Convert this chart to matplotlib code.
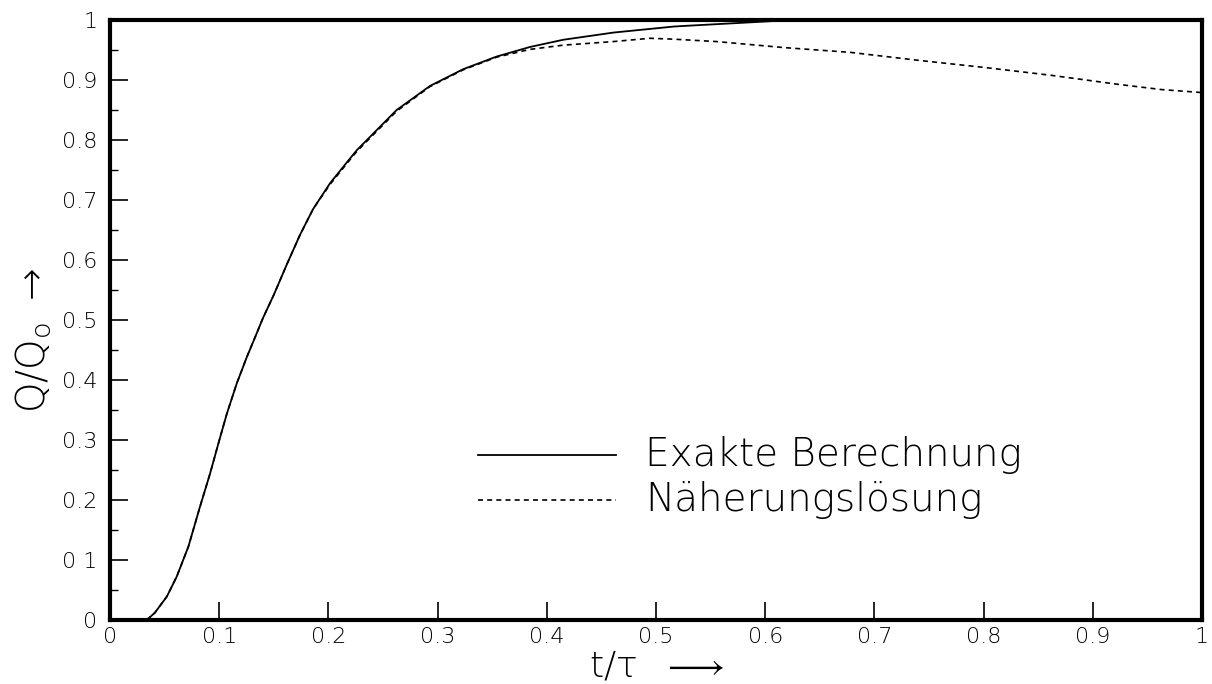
import numpy as np
import matplotlib
matplotlib.use('Agg')
import matplotlib.pyplot as plt
from matplotlib.ticker import MultipleLocator

# Exakte Berechnung
t_exact = [0.0, 0.0336, 0.041, 0.052, 0.061, 0.0717, 0.0824, 0.0916, 0.0992, 0.107,
           0.116, 0.125, 0.133, 0.140, 0.150, 0.162, 0.174, 0.186, 0.2015, 0.217,
           0.226, 0.2625, 0.293, 0.3235, 0.354, 0.3846, 0.415, 0.461, 0.516, 0.525,
           0.586, 0.625, 0.65]
q_exact = [0.0, 0.0, 0.012, 0.039, 0.072, 0.122, 0.189, 0.244, 0.294, 0.344,
           0.394, 0.437, 0.472, 0.503, 0.542, 0.593, 0.642, 0.685, 0.728, 0.763,
           0.783, 0.850, 0.890, 0.918, 0.939, 0.955, 0.967, 0.979, 0.989, 0.990,
           0.996, 1.0, 1.0]

# Näherungslösung
t_approx = [0.0, 0.0336, 0.041, 0.052, 0.061, 0.0717, 0.0824, 0.0916, 0.0992, 0.107,
            0.116, 0.125, 0.133, 0.140, 0.150, 0.162, 0.174, 0.186, 0.2015, 0.217,
            0.226, 0.2625, 0.293, 0.3235, 0.354, 0.3846, 0.415, 0.461, 0.4945, 0.516,
            0.5556, 0.617, 0.678, 0.739, 0.80, 0.861, 0.922, 0.963, 1.0]
q_approx = [0.0, 0.0, 0.012, 0.039, 0.072, 0.122, 0.189, 0.244, 0.294, 0.344,
            0.394, 0.437, 0.472, 0.503, 0.542, 0.593, 0.642, 0.685, 0.726, 0.761,
            0.781, 0.848, 0.889, 0.917, 0.938, 0.951, 0.958, 0.964, 0.9695, 0.968,
            0.964, 0.954, 0.946, 0.933, 0.921, 0.908, 0.893, 0.884, 0.879]

x_ticks = [0, 0.1, 0.2, 0.3, 0.4, 0.5, 0.6, 0.7, 0.8, 0.9, 1]
x_labels = ['0', '0.1', '0.2', '0.3', '0.4', '0.5', '0.6', '0.7', '0.8', '0.9', '1']
y_ticks = [0, 0.1, 0.2, 0.3, 0.4, 0.5, 0.6, 0.7, 0.8, 0.9, 1]
y_labels = ['0', '0 1', '0.2', '0.3', '0.4', '0.5', '0.6', '0.7', '0.8', '0.9', '1']

plt.rcParams['font.family'] = ['DejaVu Sans']
plt.rcParams['font.weight'] = 'light'
plt.rcParams['axes.labelweight'] = 'light'
plt.rcParams['mathtext.fontset'] = 'custom'
plt.rcParams['mathtext.rm'] = 'DejaVu Sans:light'
plt.rcParams['mathtext.it'] = 'DejaVu Sans:light'

fig = plt.figure(figsize=(12.12, 6.84), dpi=100)
ax = fig.add_axes([0.0908, 0.0936, 0.9009, 0.8772])

ax.plot(t_exact, q_exact, color='black', linewidth=1.3)
ax.plot(t_approx, q_approx, color='black', linewidth=1.2, linestyle=(0, (3, 2.5)))

ax.set_xlim(0, 1)
ax.set_ylim(0, 1)
ax.set_xticks(x_ticks)
ax.set_xticklabels(x_labels)
ax.set_yticks(y_ticks)
ax.set_yticklabels(y_labels)
ax.yaxis.set_minor_locator(MultipleLocator(0.05))
ax.tick_params(axis='both', which='major', direction='in', length=13, width=1.2,
               labelsize=16)
ax.tick_params(axis='y', which='major', pad=9)
ax.tick_params(axis='x', which='major', pad=5)
ax.tick_params(axis='both', which='minor', direction='in', length=6, width=1.0)
for s in ax.spines.values():
    s.set_linewidth(3)

ax.set_xlabel(r'$\mathrm{t/\tau}$  $\longrightarrow$', fontsize=26, labelpad=2)
ax.set_ylabel(r'Q/Q$_\mathrm{o}$ $\rightarrow$', fontsize=28)
ax.yaxis.set_label_coords(-0.052, 0.465)

# legend drawn by hand like in the original
ax.plot([0.337, 0.463], [0.275, 0.275], color='black', linewidth=1.3)
ax.plot([0.337, 0.463], [0.2, 0.2], color='black', linewidth=1.2, linestyle=(0, (3, 2.5)))
ax.text(0.49, 0.275, 'Exakte Berechnung', fontsize=28, va='center', ha='left')
ax.text(0.49, 0.2, 'Näherungslösung', fontsize=28, va='center', ha='left')

plt.savefig('out.png', dpi=100)
